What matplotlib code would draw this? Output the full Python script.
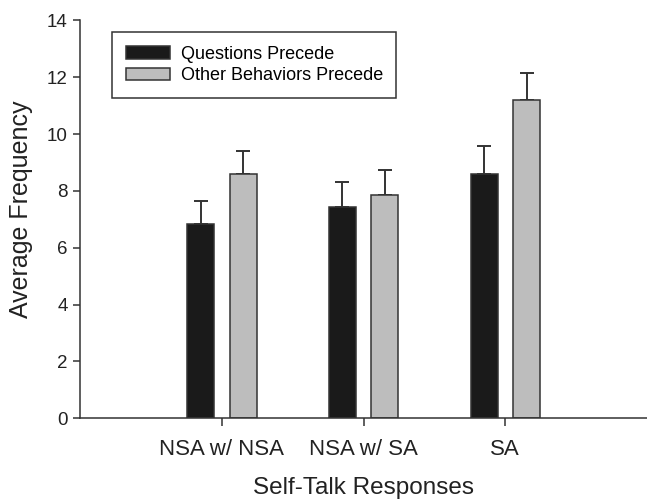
import numpy as np
import matplotlib.pyplot as plt

plt.rcParams['font.family'] = ['Liberation Sans', 'DejaVu Sans']

categories = ['NSA w/ NSA', 'NSA w/ SA', 'SA']
questions = [6.85, 7.45, 8.6]
questions_err = [0.8, 0.88, 0.98]
other = [8.6, 7.85, 11.2]
other_err = [0.8, 0.9, 0.95]

fig = plt.figure(figsize=(6.47, 4.99), dpi=100)
ax = fig.add_axes([0.124, 0.162, 0.876, 0.797])

x = np.arange(1, len(categories) + 1)
w = 0.19
off = 0.15
edge = '#333333'
txt = '#222222'

ax.bar(x - off, questions, w, color='#1a1a1a', edgecolor=edge, linewidth=1.1,
       label='Questions Precede', zorder=2)
ax.bar(x + off, other, w, color='#bdbdbd', edgecolor=edge, linewidth=1.1,
       label='Other Behaviors Precede', zorder=2)
ax.errorbar(x - off, questions, yerr=[np.zeros(3), questions_err], fmt='none',
            ecolor=edge, elinewidth=1.4, capsize=4.7, capthick=1.4, zorder=1)
ax.errorbar(x + off, other, yerr=[np.zeros(3), other_err], fmt='none',
            ecolor=edge, elinewidth=1.4, capsize=4.7, capthick=1.4, zorder=1)

ax.set_xlim(0, 4)
ax.set_ylim(0, 14)
ax.set_yticks(range(0, 15, 2))
ax.set_xticks(x, categories)

for s in ['top', 'right']:
    ax.spines[s].set_visible(False)
for s in ['left', 'bottom']:
    ax.spines[s].set_color(edge)
    ax.spines[s].set_linewidth(1.1)

ax.tick_params(axis='y', direction='out', length=5, width=1.1, color=edge,
               labelsize=13.5, pad=4, labelcolor=txt)
ax.tick_params(axis='x', direction='out', length=6, width=1.1, color=edge,
               labelsize=16, pad=9, labelcolor=txt)

ax.set_ylabel('Average Frequency', fontsize=18, color=txt)
ax.yaxis.set_label_coords(-0.083, 0.526)
ax.set_xlabel('Self-Talk Responses', fontsize=17.5, color=txt, labelpad=12)

leg = ax.legend(loc='upper left', bbox_to_anchor=(0.056, 0.97), borderaxespad=0,
                fontsize=13, frameon=True, fancybox=False, handlelength=2.45,
                handleheight=0.67, borderpad=0.75, labelspacing=0.25,
                handletextpad=0.6)
leg.get_frame().set_edgecolor(edge)
leg.get_frame().set_linewidth(1.1)
leg.get_frame().set_alpha(1)

fig.savefig('out.png', dpi=100)
